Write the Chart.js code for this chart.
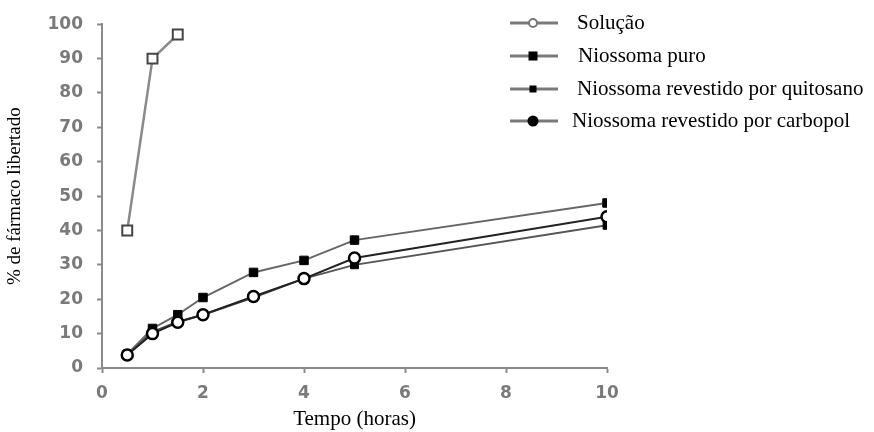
<!DOCTYPE html>
<html>
<head>
<meta charset="utf-8">
<script src="https://cdn.jsdelivr.net/npm/chart.js@4.4.1/dist/chart.umd.min.js"></script>
<style>
  html, body { margin: 0; padding: 0; background: #fff; }
  #wrap { width: 874px; height: 432px; position: relative; }
</style>
</head>
<body>
<div id="wrap"><canvas id="releaseChart"></canvas></div>
<script>
// data
const seriesNames = ["Solução", "Niossoma puro", "Niossoma revestido por quitosano", "Niossoma revestido por carbopol"];
const timeSolucao = [0.5, 1, 1.5];
const solucao = [40, 90, 97];
const time = [0.5, 1, 1.5, 2, 3, 4, 5, 10];
const puro = [4, 11.5, 15.5, 20.5, 27.8, 31.3, 37.2, 48];
const quitosano = [4, 10.5, 13.5, 15.5, 20.5, 26, 30, 41.5];
const carbopol = [3.8, 10, 13.3, 15.5, 20.8, 26, 32, 44];
const xTicks = [0, 2, 4, 6, 8, 10];
const yTicks = [0, 10, 20, 30, 40, 50, 60, 70, 80, 90, 100];
const xTitle = "Tempo (horas)";
const yTitle = "% de fármaco libertado";

function pts(xs, ys) {
    return xs.map((x, i) => ({ x: x, y: ys[i] }));
}

// legend drawn inside the plot, line with marker like the scan
const legendMarks = ["openCircle", "square", "smallSquare", "circle"];
const legendRows = [23, 56, 89, 121];
const legendTextX = [577, 578, 577, 572];

const scanLegend = {
    id: "scanLegend",
    afterDraw(chart) {
        const ctx = chart.ctx;
        ctx.save();
        seriesNames.forEach((name, i) => {
            const y = legendRows[i];
            ctx.strokeStyle = "#7a7a7a";
            ctx.lineWidth = 3;
            ctx.beginPath();
            ctx.moveTo(510, y);
            ctx.lineTo(558, y);
            ctx.stroke();
            const cx = 533;
            ctx.beginPath();
            if (legendMarks[i] === "openCircle") {
                ctx.arc(cx, y, 4, 0, Math.PI * 2);
                ctx.fillStyle = "#fff";
                ctx.fill();
                ctx.lineWidth = 2;
                ctx.strokeStyle = "#777";
                ctx.stroke();
            } else if (legendMarks[i] === "square") {
                ctx.fillStyle = "#000";
                ctx.fillRect(cx - 4.5, y - 4.5, 9, 9);
            } else if (legendMarks[i] === "smallSquare") {
                ctx.fillStyle = "#000";
                ctx.fillRect(cx - 3.5, y - 3.5, 7, 7);
            } else {
                ctx.arc(cx, y, 5.5, 0, Math.PI * 2);
                ctx.fillStyle = "#000";
                ctx.fill();
            }
            ctx.fillStyle = "#000";
            ctx.font = '21px "Liberation Serif"';
            ctx.textBaseline = "middle";
            ctx.textAlign = "left";
            ctx.fillText(name, legendTextX[i], y);
        });
        ctx.restore();
    }
};

const tickFont = { family: "DejaVu Sans", size: 17, weight: "bold" };

new Chart(document.getElementById("releaseChart"), {
    type: "line",
    data: {
        datasets: [
            {
                label: seriesNames[0],
                data: pts(timeSolucao, solucao),
                borderColor: "#8a8a8a",
                borderWidth: 2.5,
                pointStyle: "rect",
                pointRadius: 7,
                pointBackgroundColor: "#fff",
                pointBorderColor: "#444",
                pointBorderWidth: 2,
                order: 1
            },
            {
                label: seriesNames[1],
                data: pts(time, puro),
                borderColor: "#666",
                borderWidth: 2,
                pointStyle: "rect",
                pointRadius: 6,
                pointBackgroundColor: "#000",
                pointBorderColor: "#000",
                pointBorderWidth: 1,
                order: 1
            },
            {
                label: seriesNames[2],
                data: pts(time, quitosano),
                borderColor: "#555",
                borderWidth: 2,
                pointStyle: "rect",
                pointRadius: 5.5,
                pointBackgroundColor: "#000",
                pointBorderColor: "#000",
                pointBorderWidth: 1,
                order: 2
            },
            {
                label: seriesNames[3],
                data: pts(time, carbopol),
                borderColor: "#222",
                borderWidth: 2,
                pointStyle: "circle",
                pointRadius: 5.5,
                pointBackgroundColor: "#fff",
                pointBorderColor: "#000",
                pointBorderWidth: 2.5,
                order: 0
            }
        ]
    },
    options: {
        responsive: true,
        maintainAspectRatio: false,
        animation: false,
        layout: { padding: { top: 24, right: 267, bottom: 0, left: 0 } },
        plugins: {
            legend: { display: false },
            tooltip: { enabled: false }
        },
        scales: {
            x: {
                type: "linear",
                min: 0,
                max: 10,
                afterBuildTicks: (axis) => { axis.ticks = xTicks.map(v => ({ value: v })); },
                afterFit: (axis) => { axis.height = 64; },
                border: { color: "#8a8a8a", width: 2 },
                grid: { drawOnChartArea: false, drawTicks: true, tickLength: 5, color: "#8a8a8a", tickWidth: 2 },
                ticks: { color: "#7a7a7a", font: tickFont, padding: 10, maxRotation: 0 },
                title: { display: true, text: xTitle, color: "#000", font: { family: "Liberation Serif", size: 21 }, padding: 0 }
            },
            y: {
                min: 0,
                max: 100,
                afterBuildTicks: (axis) => { axis.ticks = yTicks.map(v => ({ value: v })); },
                afterFit: (axis) => { axis.width = 102; },
                border: { color: "#8a8a8a", width: 2 },
                grid: { drawOnChartArea: false, drawTicks: true, tickLength: 5, color: "#8a8a8a", tickWidth: 2 },
                ticks: { color: "#7a7a7a", font: tickFont, padding: 14 },
                title: { display: true, text: yTitle, color: "#000", font: { family: "Liberation Serif", size: 19 }, padding: 4 }
            }
        }
    },
    plugins: [scanLegend]
});
</script>
</body>
</html>
